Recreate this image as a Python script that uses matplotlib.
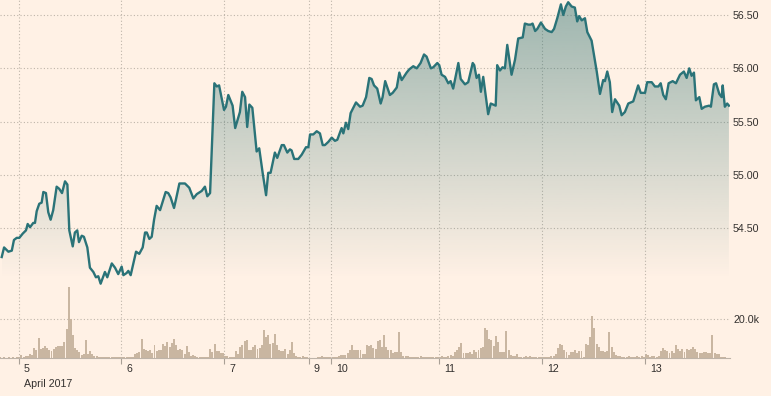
import numpy as np
import matplotlib.pyplot as plt
from matplotlib.colors import to_rgb

# ____________________________________
# Data (x in 30-minute trading slots from the left edge)

price_t = [0.8, 1.9, 3.9, 5.5, 6.5, 7.8, 9.0, 10.6, 12.1, 12.9, 14.0, 15.5, 16.3, 17.1,
           18.3, 19.4, 20.2, 21.4, 22.5, 23.6, 24.8, 26.4, 27.6, 28.9, 30.3, 31.4, 32.3,
           33.9, 34.9, 36.0, 36.8, 38.1, 39.1, 40.7, 41.9, 43.5, 44.7, 45.8, 46.9, 48.9,
           50.0, 52.1, 53.6, 55.1, 56.7, 57.5, 59.0, 59.8, 60.9, 63.4, 64.9, 66.5, 67.6,
           68.4, 69.6, 70.7, 71.8, 73.0, 74.6, 77.2, 78.4, 79.5, 81.1, 82.0, 83.6, 86.2,
           88.2, 90.1, 91.7, 94.0, 95.5, 96.6, 97.9, 99.9, 101.0, 102.1, 103.3, 104.4,
           105.3, 106.4, 108.4, 109.6, 111.8, 112.9, 114.2, 115.2, 116.2, 117.6, 119.6,
           120.8, 122.4, 124.0, 125.0, 126.1, 128.1, 129.2, 131.3, 132.3, 133.9, 135.1,
           135.9, 137.1, 139.0, 140.6, 142.6, 143.7, 144.5, 146.0, 147.6, 149.1, 150.4,
           151.4, 153.0, 154.6, 156.1, 157.2, 159.2, 160.0, 161.2, 162.3, 163.4, 165.9,
           167.8, 169.0, 170.6, 172.1, 173.2, 174.3, 175.8, 177.4, 178.3, 179.5, 181.7,
           183.0, 184.9, 186.1, 187.2, 189.5, 190.7, 192.6, 194.2, 196.0, 197.6, 198.8,
           200.8, 201.9, 203.8, 204.7, 205.8, 207.4, 208.9, 210.0, 211.2, 213.6, 214.7,
           216.7, 218.2, 220.3, 221.0, 222.1, 223.2, 224.1, 225.2, 227.5, 228.7, 231.0,
           231.7, 233.0, 234.2, 235.3, 236.4, 238.4, 240.0, 241.5, 243.6, 244.6, 246.2,
           247.3, 248.2, 249.4, 250.4, 252.1, 254.0, 255.5, 257.1, 258.2, 259.7, 261.4,
           262.5, 263.7, 264.8, 266.4, 267.9, 269.0, 269.9, 271.1, 272.6, 273.7, 275.7,
           278.1, 279.6, 281.1, 281.9, 283.0, 284.2, 285.3, 286.6, 288.6, 289.7, 291.2,
           292.8, 295.1, 297.4, 298.6, 300.6, 301.6, 303.7, 305.2, 306.8, 307.9, 309.1,
           310.3, 311.6, 313.5, 315.0, 316.9, 318.7, 320.0, 321.2, 322.3, 323.4, 324.3,
           325.9, 327.0, 328.5, 330.5, 331.3, 332.7, 333.7, 335.2, 336.3, 336.8, 337.8,
           338.9, 339.7]

price = [54.23, 54.32, 54.28, 54.29, 54.39, 54.41, 54.41, 54.45, 54.48, 54.54, 54.51, 54.55,
         54.55, 54.66, 54.73, 54.74, 54.84, 54.83, 54.65, 54.58, 54.67, 54.89, 54.87, 54.83,
         54.94, 54.91, 54.48, 54.33, 54.46, 54.48, 54.37, 54.43, 54.42, 54.32, 54.13, 54.09,
         54.04, 54.05, 53.98, 54.09, 54.04, 54.17, 54.13, 54.07, 54.14, 54.06, 54.08, 54.10,
         54.06, 54.28, 54.26, 54.32, 54.46, 54.46, 54.40, 54.42, 54.58, 54.71, 54.67, 54.84,
         54.83, 54.79, 54.69, 54.77, 54.92, 54.92, 54.88, 54.78, 54.82, 54.85, 54.89, 54.80,
         54.83, 55.86, 55.83, 55.84, 55.72, 55.61, 55.64, 55.75, 55.65, 55.44, 55.59, 55.78,
         55.73, 55.45, 55.66, 55.63, 55.22, 55.25, 55.02, 54.81, 55.02, 55.02, 55.21, 55.16,
         55.28, 55.28, 55.21, 55.24, 55.23, 55.15, 55.15, 55.19, 55.26, 55.26, 55.38, 55.38,
         55.41, 55.39, 55.28, 55.28, 55.31, 55.35, 55.32, 55.33, 55.44, 55.39, 55.49, 55.43,
         55.58, 55.68, 55.64, 55.65, 55.73, 55.91, 55.90, 55.84, 55.81, 55.67, 55.73, 55.88,
         55.75, 55.77, 55.82, 55.96, 55.89, 55.96, 55.99, 56.02, 56.00, 56.05, 56.13, 56.11,
         56.00, 56.01, 56.05, 56.03, 55.94, 55.92, 55.86, 55.88, 55.81, 56.05, 55.90, 55.85,
         55.87, 56.05, 56.03, 55.91, 55.94, 55.78, 55.92, 55.57, 55.67, 55.65, 56.03, 55.98,
         56.01, 56.00, 56.22, 55.94, 56.08, 56.28, 56.29, 56.42, 56.41, 56.41, 56.42, 56.35,
         56.37, 56.43, 56.37, 56.35, 56.34, 56.37, 56.47, 56.60, 56.50, 56.58, 56.62, 56.58,
         56.57, 56.44, 56.49, 56.45, 56.47, 56.34, 56.26, 55.97, 55.76, 55.89, 55.88, 55.97,
         55.87, 55.59, 55.71, 55.65, 55.56, 55.59, 55.67, 55.69, 55.84, 55.77, 55.77, 55.87,
         55.87, 55.83, 55.83, 55.86, 55.75, 55.71, 55.86, 55.88, 55.86, 55.94, 55.97, 55.91,
         56.00, 55.93, 55.96, 55.70, 55.73, 55.62, 55.64, 55.65, 55.64, 55.85, 55.86, 55.76,
         55.73, 55.84, 55.64, 55.67, 55.65]

# volume in thousands, one bar per 30-minute slot
volume = [0.3, 0.2, 0.3, 0.2, 0.3, 0.2, 0.3, 0.2, 0.3, 0.3,
          1.4, 0.5, 0.8, 1.0, 1.9, 1.5, 5.2, 4.0, 10.3, 4.8,
          5.0, 6.2, 5.2, 4.0, 3.4, 4.8, 5.5, 6.0, 6.0, 6.2,
          8.3, 14.8, 36.7, 20.3, 11.7, 5.0, 4.1, 3.1, 1.7, 2.0,
          9.1, 2.2, 3.6, 2.0, 1.2, 0.9, 0.5, 0.3, 0.3, 0.3,
          0.3, 0.3, 0.3, 0.3, 0.3, 0.3, 0.3, 0.3, 0.3, 0.3,
          0.5, 0.5, 0.5, 1.9, 2.8, 3.1, 9.7, 4.5, 4.0, 3.4,
          4.0, 2.8, 6.6, 3.6, 4.0, 4.3, 7.4, 6.0, 8.3, 5.7,
          7.9, 9.7, 6.6, 4.0, 4.5, 4.0, 2.2, 6.4, 3.1, 1.0,
          1.4, 1.0, 0.5, 0.3, 0.3, 0.3, 0.3, 0.5, 4.8, 3.0,
          7.2, 3.6, 3.6, 2.4, 2.8, 1.0, 1.0, 0.5, 0.7, 0.5,
          3.6, 2.2, 5.7, 6.6, 8.6, 9.5, 4.3, 4.0, 5.5, 6.9,
          4.8, 5.0, 6.6, 14.3, 10.9, 11.7, 7.4, 7.9, 12.6, 6.6,
          4.0, 3.6, 3.4, 4.8, 2.2, 4.0, 8.3, 2.8, 1.0, 0.7,
          0.5, 1.0, 0.5, 0.5, 0.2, 0.2, 0.2, 0.2, 0.3, 0.5,
          1.0, 0.3, 0.3, 0.3, 0.3, 0.7, 0.5, 0.7, 1.0, 1.4,
          1.4, 1.7, 2.8, 4.0, 6.6, 4.0, 4.3, 4.3, 4.3, 2.2,
          2.2, 6.6, 6.2, 6.6, 5.2, 4.8, 8.6, 9.1, 5.7, 12.1,
          5.7, 4.0, 4.0, 2.6, 3.1, 3.1, 13.4, 3.1, 1.0, 1.0,
          1.0, 0.5, 0.3, 0.3, 0.3, 0.5, 1.0, 0.5, 0.5, 0.5,
          0.5, 0.5, 0.5, 0.5, 0.3, 0.5, 0.9, 0.5, 0.5, 1.0,
          1.4, 1.0, 3.1, 4.0, 5.7, 7.8, 2.6, 2.6, 2.6, 3.1,
          2.2, 4.0, 3.1, 4.0, 5.2, 5.7, 15.5, 14.3, 9.7, 9.1,
          6.2, 11.4, 8.3, 3.1, 3.1, 3.1, 14.0, 4.0, 1.7, 1.0,
          1.0, 2.1, 0.7, 0.7, 0.7, 0.8, 0.5, 1.0, 0.5, 0.5,
          0.5, 0.3, 0.3, 0.3, 0.3, 0.3, 0.7, 1.2, 1.2, 2.2,
          5.0, 7.2, 6.6, 4.3, 3.1, 1.7, 3.1, 3.1, 4.0, 2.8,
          3.4, 3.4, 0.7, 7.2, 6.6, 10.9, 21.7, 15.5, 7.4, 5.7,
          3.6, 3.4, 3.1, 3.4, 13.4, 5.7, 3.1, 1.4, 1.0, 1.0,
          0.5, 0.5, 0.5, 0.9, 0.5, 0.5, 0.5, 1.0, 0.5, 1.0,
          0.5, 1.9, 1.4, 0.7, 1.0, 1.0, 0.5, 1.0, 3.6, 5.3,
          4.0, 3.4, 2.8, 3.4, 2.8, 6.6, 4.8, 3.8, 4.8, 3.1,
          4.8, 4.1, 4.8, 5.7, 4.8, 3.1, 2.8, 2.8, 3.1, 3.1,
          2.8, 2.5, 11.7, 2.8, 2.1, 1.9, 0.7, 0.7, 0.5]

day_ticks = [8.7, 56.4, 104.4, 143.8, 154.3, 204.7, 252.8, 300.8]
day_labels = ['5', '6', '7', '9', '10', '11', '12', '13']
month_label = 'April 2017'
price_ticks = [54.5, 55.0, 55.5, 56.0, 56.5]
vol_ticks = [20]

# ____________________________________
# Style

bg = '#fff1e5'
line_col = '#2a7378'
fill_col = '#286e6e'
bar_col = '#c9b6a1'
grid_col = '#bfb5aa'
text_col = '#33302e'
font = 'Liberation Sans'
fs = 7.7

fig = plt.figure(figsize=(7.71, 3.96), dpi=100, facecolor=bg)
rect = [0, 38 / 396, 730 / 771, 358 / 396]

ax_v = fig.add_axes(rect, facecolor=bg)
ax_p = fig.add_axes(rect, facecolor='none', sharex=ax_v)

# volume
ax_v.bar(np.arange(len(volume)), volume, width=0.92, color=bar_col,
         linewidth=0, zorder=2)
ax_v.set_ylim(0, 185.0)
ax_v.set_yticks(vol_ticks)
ax_v.set_yticklabels(['%.1fk' % v for v in vol_ticks])
ax_v.yaxis.tick_right()
ax_v.grid(axis='y', color=grid_col, linestyle=(0, (1, 2)), linewidth=0.8)
ax_v.set_axisbelow(True)
ax_v.set_xticks(day_ticks)
ax_v.tick_params(axis='x', length=4.5, width=0.8, color='#a9a096', labelbottom=False)
ax_v.tick_params(axis='y', length=0, pad=2.2, labelsize=fs, labelcolor=text_col)
for s in ['top', 'left', 'right']:
  ax_v.spines[s].set_visible(False)
ax_v.spines['bottom'].set_color('#bdb3a8')
ax_v.spines['bottom'].set_linewidth(0.8)

for t, lab in zip(day_ticks, day_labels):
  ax_v.annotate(lab, xy=(t, 0), xycoords='data', xytext=(3.6, -8),
                textcoords='offset points', ha='left', va='center',
                fontsize=fs, color=text_col, family=font)
ax_v.annotate(month_label, xy=(day_ticks[0], 0), xycoords='data', xytext=(3.6, -18.7),
              textcoords='offset points', ha='left', va='center',
              fontsize=fs, color=text_col, family=font)

# price with gradient fill fading to the background
top, bot = 56.641, 54.02
grad = np.linspace(0.46, 0.0, 256)
rgba = np.zeros((256, 1, 4))
rgba[..., :3] = to_rgb(fill_col)
rgba[:, 0, 3] = grad
im = ax_p.imshow(rgba, aspect='auto', origin='upper', interpolation='bilinear',
                 extent=[price_t[0], price_t[-1], bot, top], zorder=1)
poly = ax_p.fill_between(price_t, price, bot, facecolor='none', edgecolor='none')
im.set_clip_path(poly.get_paths()[0], transform=ax_p.transData)
ax_p.plot(price_t, price, color=line_col, linewidth=1.7, solid_joinstyle='round', zorder=3)

ax_p.set_xlim(0, 340.2)
ax_p.set_ylim(53.283, 56.641)
ax_p.set_yticks(price_ticks)
ax_p.set_yticklabels(['%.2f' % p for p in price_ticks])
ax_p.yaxis.tick_right()
ax_p.grid(axis='both', color=grid_col, linestyle=(0, (1, 2)), linewidth=0.8)
ax_p.set_axisbelow(True)
ax_p.tick_params(axis='x', length=0, labelbottom=False)
ax_p.tick_params(axis='y', length=0, pad=2.2, labelsize=fs, labelcolor=text_col)
for s in ax_p.spines.values():
  s.set_visible(False)

for ax in (ax_v, ax_p):
  for lab in ax.get_yticklabels():
    lab.set_family(font)

fig.savefig('out.png', dpi=100, facecolor=bg)
